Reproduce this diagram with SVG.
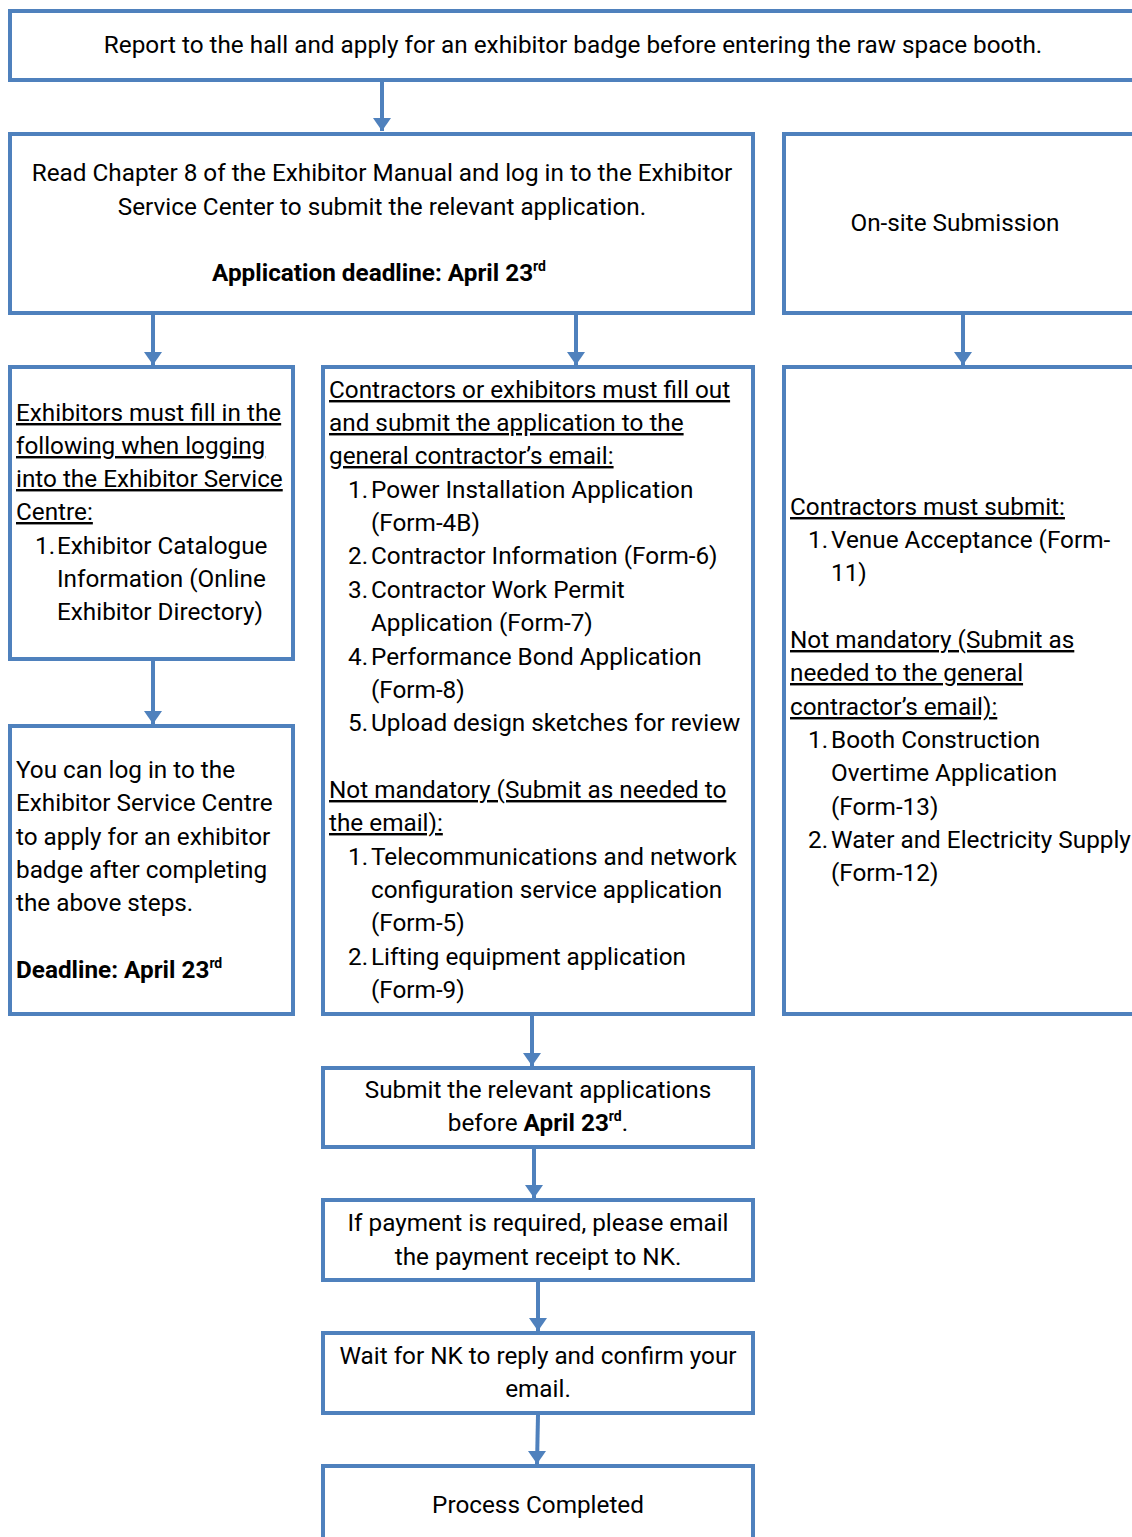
<svg xmlns="http://www.w3.org/2000/svg" width="1132" height="1537" viewBox="0 0 1132 1537">
<defs>
<style>
.box{fill:#ffffff;stroke:#4f81bd;stroke-width:4}
.t{font-family:Roboto,"Liberation Sans",sans-serif;font-size:24.3px;fill:#000000}
.c{text-anchor:middle}
.u{text-decoration:underline}
.b{font-weight:bold}
.sup{font-size:14px}
.con{stroke:#4f81bd;stroke-width:4;fill:none}
</style>
<marker id="ah" markerWidth="18" markerHeight="13" refX="9" refY="13" orient="0" markerUnits="userSpaceOnUse" viewBox="0 0 18 13">
<path d="M0,0 L18,0 L9,13 Z" fill="#4f81bd"/>
</marker>
</defs>
<rect width="1132" height="1537" fill="#ffffff"/>

<g id="connectors">
<line class="con" x1="382" y1="82" x2="382" y2="131" marker-end="url(#ah)"/>
<line class="con" x1="153" y1="315" x2="153" y2="365" marker-end="url(#ah)"/>
<line class="con" x1="576" y1="315" x2="576" y2="365" marker-end="url(#ah)"/>
<line class="con" x1="963" y1="315" x2="963" y2="365" marker-end="url(#ah)"/>
<line class="con" x1="153" y1="660" x2="153" y2="724" marker-end="url(#ah)"/>
<line class="con" x1="532" y1="1016" x2="532" y2="1066" marker-end="url(#ah)"/>
<line class="con" x1="534" y1="1149" x2="534" y2="1198" marker-end="url(#ah)"/>
<line class="con" x1="538" y1="1282" x2="538" y2="1331" marker-end="url(#ah)"/>
<line class="con" x1="538" y1="1415" x2="537" y2="1464" marker-end="url(#ah)"/>
</g>

<g id="n1">
<rect class="box" x="10" y="11" width="1140" height="69"/>
<text class="t c" x="573" y="53">Report to the hall and apply for an exhibitor badge before entering the raw space booth.</text>
</g>

<g id="n2">
<rect class="box" x="10" y="134" width="743" height="179"/>
<text class="t c" x="382" y="181">Read Chapter 8 of the Exhibitor Manual and log in to the Exhibitor</text>
<text class="t c" x="382" y="215">Service Center to submit the relevant application.</text>
<text class="t b c" x="379" y="281">Application deadline: April 23<tspan class="sup" dy="-10">rd</tspan></text>
</g>

<g id="n3">
<rect class="box" x="784" y="134" width="360" height="179"/>
<text class="t c" x="955" y="231">On-site Submission</text>
</g>

<g id="n4">
<rect class="box" x="10" y="367" width="283" height="292"/>
<text class="t u" x="16" y="421">Exhibitors must fill in the</text>
<text class="t u" x="16" y="454">following when logging</text>
<text class="t u" x="16" y="487">into the Exhibitor Service</text>
<text class="t u" x="16" y="520">Centre:</text>
<text class="t" x="35" y="554">1.</text>
<text class="t" x="57" y="554">Exhibitor Catalogue</text>
<text class="t" x="57" y="587">Information (Online</text>
<text class="t" x="57" y="620">Exhibitor Directory)</text>
</g>

<g id="n5">
<rect class="box" x="323" y="367" width="430" height="647"/>
<text class="t u" x="329" y="398">Contractors or exhibitors must fill out</text>
<text class="t u" x="329" y="431">and submit the application to the</text>
<text class="t u" x="329" y="464">general contractor’s email: </text>
<text class="t" x="348" y="498">1.</text>
<text class="t" x="371" y="498">Power Installation Application</text>
<text class="t" x="371" y="531">(Form-4B)</text>
<text class="t" x="348" y="564">2.</text>
<text class="t" x="371" y="564">Contractor Information (Form-6)</text>
<text class="t" x="348" y="598">3.</text>
<text class="t" x="371" y="598">Contractor Work Permit</text>
<text class="t" x="371" y="631">Application (Form-7)</text>
<text class="t" x="348" y="665">4.</text>
<text class="t" x="371" y="665">Performance Bond Application</text>
<text class="t" x="371" y="698">(Form-8)</text>
<text class="t" x="348" y="731">5.</text>
<text class="t" x="371" y="731">Upload design sketches for review</text>
<text class="t u" x="329" y="798">Not mandatory (Submit as needed to</text>
<text class="t u" x="329" y="831">the email):</text>
<text class="t" x="348" y="865">1.</text>
<text class="t" x="371" y="865">Telecommunications and network</text>
<text class="t" x="371" y="898">configuration service application</text>
<text class="t" x="371" y="931">(Form-5)</text>
<text class="t" x="348" y="965">2.</text>
<text class="t" x="371" y="965">Lifting equipment application</text>
<text class="t" x="371" y="998">(Form-9)</text>
</g>

<g id="n6">
<rect class="box" x="784" y="367" width="360" height="647"/>
<text class="t u" x="790" y="515">Contractors must submit:</text>
<text class="t" x="808" y="548">1.</text>
<text class="t" x="831" y="548">Venue Acceptance (Form-</text>
<text class="t" x="831" y="581">11)</text>
<text class="t u" x="790" y="648">Not mandatory (Submit as</text>
<text class="t u" x="790" y="681">needed to the general</text>
<text class="t u" x="790" y="715">contractor’s email): </text>
<text class="t" x="808" y="748">1.</text>
<text class="t" x="831" y="748">Booth Construction</text>
<text class="t" x="831" y="781">Overtime Application</text>
<text class="t" x="831" y="815">(Form-13)</text>
<text class="t" x="808" y="848">2.</text>
<text class="t" x="831" y="848">Water and Electricity Supply</text>
<text class="t" x="831" y="881">(Form-12)</text>
</g>

<g id="n7">
<rect class="box" x="10" y="726" width="283" height="288"/>
<text class="t" x="16" y="778">You can log in to the</text>
<text class="t" x="16" y="811">Exhibitor Service Centre</text>
<text class="t" x="16" y="845">to apply for an exhibitor</text>
<text class="t" x="16" y="878">badge after completing</text>
<text class="t" x="16" y="911">the above steps.</text>
<text class="t b" x="16" y="978">Deadline: April 23<tspan class="sup" dy="-10">rd</tspan></text>
</g>

<g id="n8">
<rect class="box" x="323" y="1068" width="430" height="79"/>
<text class="t c" x="538" y="1098">Submit the relevant applications</text>
<text class="t c" x="538" y="1131">before <tspan class="b">April 23</tspan><tspan class="sup b" dy="-10">rd</tspan><tspan dy="10">.</tspan></text>
</g>

<g id="n9">
<rect class="box" x="323" y="1200" width="430" height="80"/>
<text class="t c" x="538" y="1231">If payment is required, please email</text>
<text class="t c" x="538" y="1265">the payment receipt to NK.</text>
</g>

<g id="n10">
<rect class="box" x="323" y="1333" width="430" height="80"/>
<text class="t c" x="538" y="1364">Wait for NK to reply and confirm your</text>
<text class="t c" x="538" y="1397">email.</text>
</g>

<g id="n11">
<rect class="box" x="323" y="1466" width="430" height="90"/>
<text class="t c" x="538" y="1513">Process Completed</text>
</g>
</svg>
